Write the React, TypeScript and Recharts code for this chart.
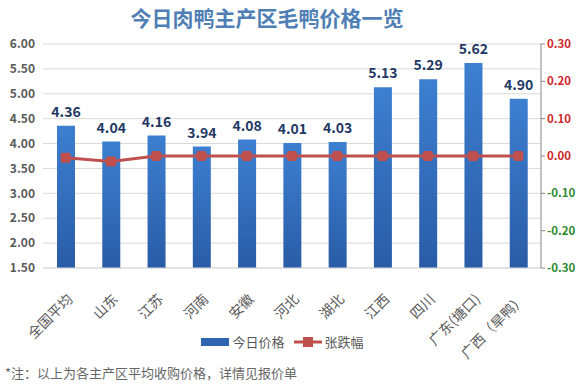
import { ComposedChart, Bar, Line, XAxis, YAxis, CartesianGrid, Legend, LabelList } from "recharts";

const regions = ["全国平均", "山东", "江苏", "河南", "安徽", "河北", "湖北", "江西", "四川", "广东(塘口)", "广西（旱鸭）"];
const prices = [4.36, 4.04, 4.16, 3.94, 4.08, 4.01, 4.03, 5.13, 5.29, 5.62, 4.9];
const changes = [-0.005, -0.015, 0, 0, 0, 0, 0, 0, 0, 0, 0];
const leftTicks = [1.5, 2, 2.5, 3, 3.5, 4, 4.5, 5, 5.5, 6];
const rightTicks = [-0.3, -0.2, -0.1, 0, 0.1, 0.2, 0.3];

const data = regions.map((r, i) => ({ name: r, price: prices[i], change: changes[i] }));

const FONT = "'Noto Sans CJK SC', 'Noto Sans', sans-serif";

const XTick = (props: any) => {
  const { x, y, payload } = props;
  const ax = x + 8;
  const ay = y + 24;
  return (
    <text x={ax} y={ay} transform={`rotate(-45, ${ax}, ${ay})`} textAnchor="end" fontSize={14} fill="#595959" fontFamily={FONT}>
      {payload.value}
    </text>
  );
};

const RightTick = (props: any) => {
  const { x, y, payload } = props;
  const v = payload.value;
  return (
    <text x={x} y={y + 4} fontSize={11.5} fontWeight="bold" fill={v < 0 ? "#2e8b2e" : "#d0262b"} fontFamily={FONT}>
      {v.toFixed(2)}
    </text>
  );
};

const SquareDot = (props: any) => {
  const { cx, cy } = props;
  if (cx == null || cy == null) return null;
  return <rect x={cx - 5} y={cy - 5} width={10} height={10} rx={2} fill="#c0504d" />;
};

const LegendBox = () => (
  <div style={{ height: 21, display: "flex", justifyContent: "center", alignItems: "center", fontSize: 13, color: "#595959", fontFamily: FONT, paddingRight: 11 }}>
    <span style={{ display: "inline-block", width: 28, height: 8, background: "#2f64b0", marginRight: 3 }} />
    <span style={{ marginRight: 9 }}>今日价格</span>
    <svg width={28} height={12} style={{ marginRight: 3 }}>
      <line x1={0} y1={6} x2={28} y2={6} stroke="#c0504d" strokeWidth={3} />
      <rect x={9} y={1} width={10} height={10} fill="#c0504d" />
    </svg>
    <span>张跌幅</span>
  </div>
);

export default function App() {
  return (
    <div style={{ position: "relative", width: 576, height: 388, background: "#fff", fontFamily: FONT }}>
      <style>{"body{margin:0}"}</style>
      <div style={{ position: "absolute", left: 0, top: 3, width: 534, textAlign: "center", fontSize: 21, fontWeight: "bold", color: "#4f7fb5", lineHeight: "28px" }}>
        今日肉鸭主产区毛鸭价格一览
      </div>
      <ComposedChart width={576} height={388} data={data} margin={{ top: 44, right: 0, left: 0, bottom: 28 }}>
        <defs>
          <linearGradient id="barGrad" x1="0" y1="0" x2="0" y2="1">
            <stop offset="0%" stopColor="#3d7fd0" />
            <stop offset="100%" stopColor="#2a5ca6" />
          </linearGradient>
        </defs>
        <CartesianGrid yAxisId="left" vertical={false} stroke="#d9d9d9" />
        <XAxis dataKey="name" height={71} interval={0} tick={<XTick />} tickLine={false} axisLine={{ stroke: "#d9d9d9" }} />
        <YAxis
          yAxisId="left"
          domain={[1.5, 6]}
          ticks={leftTicks}
          width={43}
          axisLine={false}
          tickLine={false}
          tickFormatter={(v: number) => v.toFixed(2)}
          tick={{ fontSize: 12, fill: "#595959", fontWeight: "bold", fontFamily: FONT }}
          allowDataOverflow
        />
        <YAxis
          yAxisId="right"
          orientation="right"
          domain={[-0.3, 0.3]}
          ticks={rightTicks}
          width={35}
          axisLine={{ stroke: "#888" }}
          tickLine={{ stroke: "#888" }}
          tickSize={4}
          tick={<RightTick />}
        />
        <Legend verticalAlign="bottom" content={<LegendBox />} wrapperStyle={{ bottom: 36 }} />
        <Bar yAxisId="left" dataKey="price" name="今日价格" fill="url(#barGrad)" barSize={18} isAnimationActive={false}>
          <LabelList
            dataKey="price"
            position="top"
            offset={9}
            formatter={(v: any) => Number(v).toFixed(2)}
            style={{ fontSize: 14, fontWeight: "bold", fill: "#1f3864", fontFamily: FONT }}
          />
        </Bar>
        <Line
          yAxisId="right"
          dataKey="change"
          name="张跌幅"
          stroke="#c0504d"
          strokeWidth={3}
          dot={<SquareDot />}
          isAnimationActive={false}
        />
      </ComposedChart>
      <div style={{ position: "absolute", left: 5, top: 363, fontSize: 13, lineHeight: "20px", color: "#666" }}>
        *注：以上为各主产区平均收购价格，详情见报价单
      </div>
    </div>
  );
}
